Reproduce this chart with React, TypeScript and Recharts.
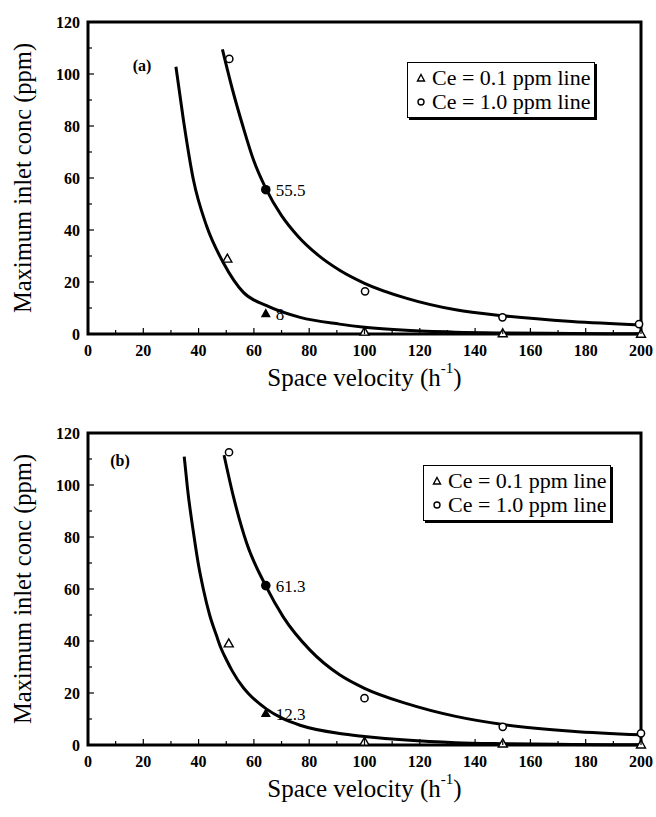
import React from "react";
import {
  ComposedChart,
  Legend,
  Line,
  ReferenceArea,
  Scatter,
  XAxis,
  YAxis,
} from "recharts";

const FONT = "'Liberation Serif', 'Times New Roman', serif";

const xTicks = [0, 10, 20, 30, 40, 50, 60, 70, 80, 90, 100, 110, 120, 130, 140, 150, 160, 170, 180, 190, 200];
const yTicks = [0, 10, 20, 30, 40, 50, 60, 70, 80, 90, 100, 110, 120];

const legendItems = [
  { name: "Ce = 0.1 ppm line", marker: "triangle" },
  { name: "Ce = 1.0 ppm line", marker: "circle" },
];

// panel (a)
const curveLowA = [
  { x: 31.8, y: 102.8 }, { x: 34.5, y: 82.4 }, { x: 38.1, y: 59.4 }, { x: 42.9, y: 41.5 },
  { x: 48.9, y: 27.5 }, { x: 56.2, y: 16 }, { x: 64.6, y: 10.9 }, { x: 76.7, y: 6.4 },
  { x: 91, y: 3.8 }, { x: 100, y: 2.6 }, { x: 115, y: 1.4 }, { x: 133, y: 0.7 },
  { x: 150, y: 0.4 }, { x: 175, y: 0.2 }, { x: 200, y: 0.1 },
];
const curveHighA = [
  { x: 48.6, y: 109.5 }, { x: 52, y: 95 }, { x: 56, y: 80 }, { x: 60, y: 66.5 },
  { x: 64.3, y: 56 }, { x: 70, y: 45.5 }, { x: 76, y: 37.5 }, { x: 83, y: 30.5 },
  { x: 91, y: 24.5 }, { x: 100, y: 19.5 }, { x: 115, y: 13.8 }, { x: 133, y: 9.3 },
  { x: 150, y: 7 }, { x: 175, y: 4.8 }, { x: 200, y: 3.5 },
];
const triOpenA = [{ x: 50.4, y: 29 }, { x: 100, y: 0.9 }, { x: 150, y: 0.3 }, { x: 200, y: 0.1 }];
const triFilledA = [{ x: 64.3, y: 8, label: "8" }];
const cirOpenA = [{ x: 51.1, y: 105.8 }, { x: 100.2, y: 16.4 }, { x: 149.9, y: 6.4 }, { x: 199.3, y: 3.8 }];
const cirFilledA = [{ x: 64.3, y: 55.5, label: "55.5" }];

// panel (b)
const curveLowB = [
  { x: 34.8, y: 110.9 }, { x: 36, y: 98.5 }, { x: 38.1, y: 82 }, { x: 40, y: 69 },
  { x: 41.7, y: 60 }, { x: 44, y: 50 }, { x: 46.5, y: 42 }, { x: 48, y: 37.5 },
  { x: 50.2, y: 32.5 }, { x: 52, y: 28.8 }, { x: 56.2, y: 22 }, { x: 58, y: 19.8 },
  { x: 64.6, y: 13.8 }, { x: 70, y: 10.4 }, { x: 76.7, y: 7.6 }, { x: 91, y: 4.4 },
  { x: 100, y: 3.3 }, { x: 115, y: 1.9 }, { x: 133, y: 0.9 }, { x: 150, y: 0.5 },
  { x: 175, y: 0.2 }, { x: 200, y: 0.1 },
];
const curveHighB = [
  { x: 49.2, y: 111.5 }, { x: 52.6, y: 95.5 }, { x: 57.4, y: 77.6 }, { x: 64.3, y: 61.2 },
  { x: 70.6, y: 49.3 }, { x: 80.3, y: 36.5 }, { x: 91, y: 27 }, { x: 100, y: 21.8 },
  { x: 115, y: 16 }, { x: 133, y: 11 }, { x: 150, y: 7.9 }, { x: 175, y: 5.3 },
  { x: 200, y: 3.9 },
];
const triOpenB = [{ x: 50.9, y: 39.1 }, { x: 100, y: 1.3 }, { x: 150, y: 0.6 }, { x: 200, y: 0.2 }];
const triFilledB = [{ x: 64.3, y: 12.3, label: "12.3" }];
const cirOpenB = [{ x: 51, y: 112.6 }, { x: 100, y: 18 }, { x: 150, y: 7 }, { x: 200, y: 4.5 }];
const cirFilledB = [{ x: 64.3, y: 61.3, label: "61.3" }];

const X_MARGIN = 6;
const Y_MARGIN = 6;

const XTick = (props: any) => {
  const { x, y, payload } = props;
  const major = payload.value % 20 === 0;
  const axisY = y - X_MARGIN;
  return (
    <g>
      <line x1={x} x2={x} y1={axisY} y2={axisY - (major ? 6 : 4)} stroke="#000" strokeWidth={1.2} />
      {major && (
        <text x={x} y={axisY + 16} textAnchor="middle" dominantBaseline="central"
          style={{ fontFamily: FONT, fontWeight: 700, fontSize: 16 }} fill="#000">
          {payload.value}
        </text>
      )}
    </g>
  );
};

const YTick = (props: any) => {
  const { x, y, payload } = props;
  const major = payload.value % 20 === 0;
  const axisX = x + Y_MARGIN;
  return (
    <g>
      <line x1={axisX} x2={axisX + (major ? 6 : 4)} y1={y} y2={y} stroke="#000" strokeWidth={1.2} />
      {major && (
        <text x={axisX - 8} y={y} textAnchor="end" dominantBaseline="central"
          style={{ fontFamily: FONT, fontWeight: 700, fontSize: 16 }} fill="#000">
          {payload.value}
        </text>
      )}
    </g>
  );
};

const XTitle = ({ viewBox }: any) => (
  <text x={viewBox.x + viewBox.width / 2} y={viewBox.y + 43} textAnchor="middle"
    dominantBaseline="central" style={{ fontFamily: FONT, fontSize: 25 }} fill="#000">
    Space velocity (h<tspan dy={-9} fontSize={15}>-1</tspan><tspan dy={9}>)</tspan>
  </text>
);

const YTitle = ({ viewBox }: any) => {
  const cx = 22;
  const cy = viewBox.y + viewBox.height / 2;
  return (
    <text x={cx} y={cy} transform={`rotate(-90 ${cx} ${cy})`} textAnchor="middle"
      dominantBaseline="central" style={{ fontFamily: FONT, fontSize: 24.5 }} fill="#000">
      Maximum inlet conc (ppm)
    </text>
  );
};

const pointLabel = (p: any) => (
  <text x={p.cx + 10} y={p.cy + 1} dominantBaseline="central"
    style={{ fontFamily: FONT, fontSize: 17 }} fill="#000">
    {p.payload.label}
  </text>
);

const OpenTri = (p: any) => (
  <path d={`M${p.cx},${p.cy - 4.5}L${p.cx + 4.5},${p.cy + 3.5}L${p.cx - 4.5},${p.cy + 3.5}Z`}
    fill="#fff" stroke="#000" strokeWidth={1.4} />
);
const FilledTri = (p: any) => (
  <g>
    <path d={`M${p.cx},${p.cy - 5}L${p.cx + 5},${p.cy + 4}L${p.cx - 5},${p.cy + 4}Z`} fill="#000" />
    {pointLabel(p)}
  </g>
);
const OpenCircle = (p: any) => (
  <circle cx={p.cx} cy={p.cy} r={3.6} fill="#fff" stroke="#000" strokeWidth={1.5} />
);
const FilledCircle = (p: any) => (
  <g>
    <circle cx={p.cx} cy={p.cy} r={4.8} fill="#000" />
    {pointLabel(p)}
  </g>
);

const LegendBox = () => (
  <div style={{
    border: "1px solid #000", boxShadow: "2px 2px 0 #000", background: "#fff",
    padding: "3px 4px 3px 8px", fontFamily: FONT, fontSize: 22, lineHeight: "24px",
    color: "#000", whiteSpace: "nowrap",
  }}>
    {legendItems.map((it) => (
      <div key={it.name} style={{ display: "flex", alignItems: "center" }}>
        <svg width={10} height={10} style={{ marginRight: 6 }}>
          {it.marker === "triangle"
            ? <path d="M5,1.5L8.5,8L1.5,8Z" fill="#fff" stroke="#000" strokeWidth={1.4} />
            : <circle cx={5} cy={5} r={3} fill="#fff" stroke="#000" strokeWidth={1.4} />}
        </svg>
        <span>{it.name}</span>
      </div>
    ))}
  </div>
);

interface PanelProps {
  height: number;
  top: number;
  tag: string;
  tagX: number;
  tagY: number;
  legendLeft: number;
  legendTop: number;
  curveLow: { x: number; y: number }[];
  curveHigh: { x: number; y: number }[];
  triOpen: { x: number; y: number }[];
  triFilled: { x: number; y: number; label: string }[];
  cirOpen: { x: number; y: number }[];
  cirFilled: { x: number; y: number; label: string }[];
}

function Panel(p: PanelProps) {
  const plotH = 312;
  return (
    <ComposedChart width={656} height={p.height}
      margin={{ top: p.top, right: 15, bottom: 0, left: 0 }}>
      <XAxis type="number" dataKey="x" domain={[0, 200]} ticks={xTicks} interval={0}
        axisLine={false} tickSize={0} tickMargin={X_MARGIN} tick={<XTick />}
        height={p.height - p.top - plotH} label={<XTitle />} />
      <YAxis type="number" dataKey="y" domain={[0, 120]} ticks={yTicks} interval={0}
        axisLine={false} tickSize={0} tickMargin={Y_MARGIN} tick={<YTick />}
        width={88} label={<YTitle />} />
      <Line data={p.curveLow} dataKey="y" type="monotone" dot={false} stroke="#000"
        strokeWidth={3} isAnimationActive={false} />
      <Line data={p.curveHigh} dataKey="y" type="monotone" dot={false} stroke="#000"
        strokeWidth={3} isAnimationActive={false} />
      <Scatter data={p.triOpen} dataKey="y" shape={OpenTri} isAnimationActive={false} />
      <Scatter data={p.cirOpen} dataKey="y" shape={OpenCircle} isAnimationActive={false} />
      <Scatter data={p.cirFilled} dataKey="y" shape={FilledCircle} isAnimationActive={false} />
      <Scatter data={p.triFilled} dataKey="y" shape={FilledTri} isAnimationActive={false} />
      <ReferenceArea x1={0} x2={200} y1={0} y2={120} fill="none" stroke="#000"
        strokeWidth={3} ifOverflow="visible" />
      <text x={p.tagX} y={p.tagY} textAnchor="middle" dominantBaseline="central"
        style={{ fontFamily: FONT, fontWeight: 700, fontSize: 16 }} fill="#000">{p.tag}</text>
      <Legend layout="vertical" align="center" verticalAlign="middle" content={<LegendBox />}
        wrapperStyle={{ left: p.legendLeft, top: p.legendTop, width: "auto", height: "auto" }} />
    </ComposedChart>
  );
}

export default function App() {
  return (
    <div style={{ position: "absolute", left: 0, top: 0, width: 656, height: 817, background: "#fff" }}>
      <Panel height={410} top={22} tag="(a)" tagX={142} tagY={65} legendLeft={407} legendTop={62}
        curveLow={curveLowA} curveHigh={curveHighA} triOpen={triOpenA} triFilled={triFilledA}
        cirOpen={cirOpenA} cirFilled={cirFilledA} />
      <Panel height={407} top={23} tag="(b)" tagX={120} tagY={50} legendLeft={423} legendTop={55}
        curveLow={curveLowB} curveHigh={curveHighB} triOpen={triOpenB} triFilled={triFilledB}
        cirOpen={cirOpenB} cirFilled={cirFilledB} />
    </div>
  );
}
